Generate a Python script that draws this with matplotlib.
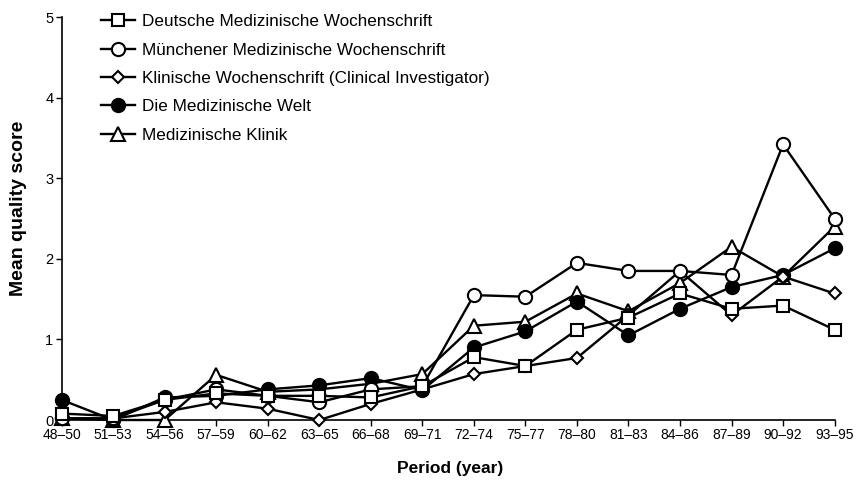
import matplotlib
matplotlib.use("Agg")
import matplotlib.pyplot as plt
import numpy as np

plt.rcParams['font.family'] = ['Liberation Sans', 'DejaVu Sans']

periods = ["48–50", "51–53", "54–56", "57–59", "60–62", "63–65", "66–68", "69–71",
           "72–74", "75–77", "78–80", "81–83", "84–86", "87–89", "90–92", "93–95"]

deutsche = [0.08, 0.05, 0.25, 0.33, 0.30, 0.30, 0.28, 0.42,
            0.78, 0.67, 1.12, 1.27, 1.57, 1.38, 1.42, 1.12]
muenchener = [0.02, 0.02, 0.25, 0.38, 0.30, 0.22, 0.38, 0.42,
              1.55, 1.53, 1.95, 1.85, 1.85, 1.80, 3.42, 2.50]
klinische = [0.02, 0.02, 0.10, 0.22, 0.14, 0.00, 0.20, 0.38,
             0.57, 0.67, 0.77, 1.30, 1.85, 1.30, 1.78, 1.57]
welt = [0.25, 0.00, 0.28, 0.30, 0.38, 0.43, 0.52, 0.37,
        0.90, 1.10, 1.47, 1.05, 1.38, 1.65, 1.80, 2.13]
klinik = [0.02, 0.00, 0.00, 0.56, 0.35, 0.38, 0.45, 0.57,
          1.17, 1.22, 1.57, 1.35, 1.70, 2.15, 1.78, 2.40]

series = [
    ("Deutsche Medizinische Wochenschrift", deutsche, "s", "white", 3.4),
    ("Münchener Medizinische Wochenschrift", muenchener, "o", "white", 3.3),
    ("Klinische Wochenschrift (Clinical Investigator)", klinische, "D", "white", 3.2),
    ("Die Medizinische Welt", welt, "o", "black", 3.1),
    ("Medizinische Klinik", klinik, "^", "white", 3.0),
]
msizes = {"s": 9, "o": 9.5, "D": 6.5, "^": 9.5}

fig = plt.figure(figsize=(8.56, 5.03), dpi=100)
ax = fig.add_axes([0.072, 0.165, 0.903, 0.801])

x = np.arange(len(periods))
for label, vals, m, fc, z in series:
    ax.plot(x, vals, color="black", lw=1.7, marker=m, markersize=msizes[m],
            markerfacecolor=fc, markeredgecolor="black", markeredgewidth=1.5,
            label=label, clip_on=False, zorder=z)

ax.set_xlim(0, len(periods) - 1)
ax.set_ylim(0, 5)
ax.set_xticks(x)
ax.set_xticklabels(periods, fontsize=10)
ax.set_yticks(range(6))
ax.set_yticklabels([str(i) for i in range(6)], fontsize=10.5)
ax.spines["top"].set_visible(False)
ax.spines["right"].set_visible(False)
ax.spines["left"].set_linewidth(1.2)
ax.spines["bottom"].set_linewidth(1.2)
ax.tick_params(axis="both", direction="out", length=4, width=1, pad=2)

fig.text(450 / 856, 1 - 468 / 503, "Period (year)", fontsize=12.5,
         fontweight="bold", ha="center", va="center")
fig.text(19 / 856, 1 - 208 / 503, "Mean quality score", fontsize=14,
         fontweight="bold", ha="center", va="center", rotation=90)

leg = ax.legend(loc="upper left", bbox_to_anchor=(0.110, 0.985),
                bbox_transform=fig.transFigure, frameon=False,
                fontsize=12.3, handlelength=2.0, handletextpad=0.4,
                labelspacing=0.78, borderaxespad=0)

fig.savefig("out.png", dpi=100)
